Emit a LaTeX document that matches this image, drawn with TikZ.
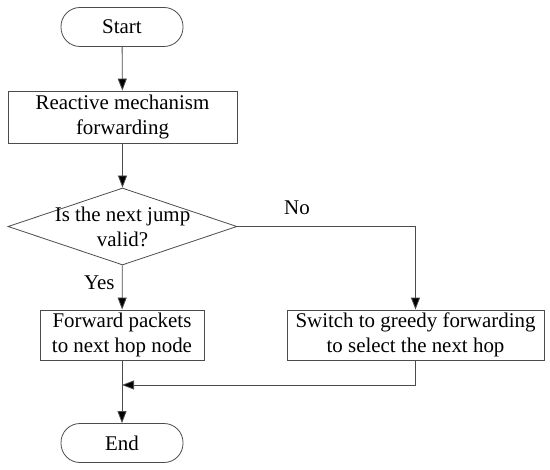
\documentclass[tikz,border=0pt]{standalone}
\usepackage{fontspec}
\setmainfont{Liberation Serif}
\usetikzlibrary{arrows.meta,shapes.geometric}
\tikzset{
    line/.style={draw=black!70, line width=0.8bp},
    arr/.style={line, -{Triangle[length=12bp,width=9bp,fill=black]}},
    term/.style={line, rounded corners=19bp, minimum width=122bp, minimum height=39bp, align=center},
    proc/.style={line, minimum height=52bp, align=center, inner sep=2bp},
    decide/.style={line, diamond, minimum width=229bp, minimum height=77bp, inner sep=0pt}
}
\begin{document}
\begin{tikzpicture}[x=1bp, y=-1bp, font=\fontsize{21}{25}\selectfont]
    \useasboundingbox (0,0) rectangle (550,470);
    % nodes
    \node[term] (start) at (122,27) {Start};
    \node[proc, minimum width=229bp] (react) at (122.5,117) {Reactive mechanism\\forwarding};
    \node[decide] (valid) at (122.5,226.5) {};
    \node[align=center] (validtxt) at (valid.center) {Is the next jump\\valid?};
    \node[proc, minimum width=164bp, minimum height=50bp] (fwd) at (122,335) {Forward packets\\to next hop node};
    \node[proc, minimum width=257bp, minimum height=50bp] (greedy) at (415.5,335) {Switch to greedy forwarding\\to select the next hop};
    \node[term] (end) at (122,443) {End};
    \coordinate (join) at (122,385);
    % connectors
    \draw[arr] (start) -- (react);
    \draw[arr] (react) -- (valid);
    \draw[arr] (valid) -- node[left, pos=0.4, xshift=-4bp] {Yes} (fwd);
    \draw[arr] (valid.east) -| (greedy.north);
    \node (no) at (297,208) {No};
    \draw[arr] (fwd) -- (end);
    \draw[arr] (greedy.south) |- (join);
\end{tikzpicture}
\end{document}
